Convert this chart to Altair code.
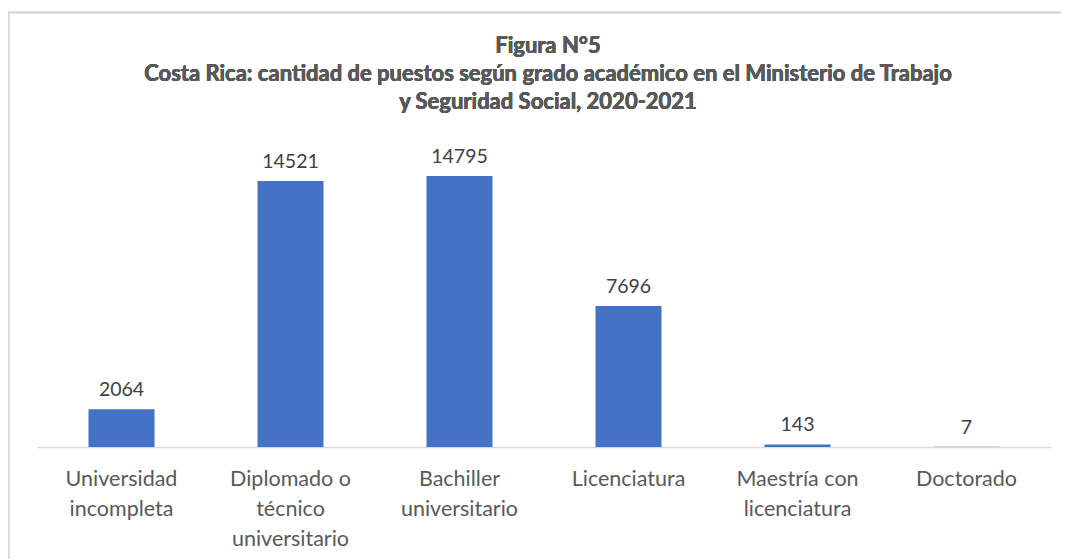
import altair as alt
import pandas as pd

categories = [
    "Universidad\nincompleta",
    "Diplomado o\ntécnico\nuniversitario",
    "Bachiller\nuniversitario",
    "Licenciatura",
    "Maestría con\nlicenciatura",
    "Doctorado",
]
values = [2064, 14521, 14795, 7696, 143, 7]
title_lines = [
    "Figura N°5",
    "Costa Rica: cantidad de puestos según grado académico en el Ministerio de Trabajo",
    "y Seguridad Social, 2020-2021",
]

df = pd.DataFrame({"cat": categories, "val": values})
FONT = "Lato"

x = alt.X("cat:N", sort=categories, title=None,
          scale=alt.Scale(paddingInner=0, paddingOuter=0),
          axis=alt.Axis(labelAngle=0, labelExpr="split(datum.label, '\\n')",
                        labelFontSize=21.5, labelColor="#595959", labelFont=FONT,
                        labelLineHeight=30, labelPadding=32, labelBaseline="middle",
                        ticks=False, domainColor="#D9D9D9", domainWidth=1.5,
                        labelLimit=300))
y = alt.Y("val:Q", scale=alt.Scale(domain=[0, 16000]), axis=None)

bars = alt.Chart(df).mark_bar(size=66, color="#4472C4").encode(x=x, y=y)
labels = alt.Chart(df).mark_text(baseline="bottom", dy=-9, fontSize=19.5, color="#404040", font=FONT).encode(
    x=alt.X("cat:N", sort=categories), y=y, text="val:Q")

border = alt.Chart(df).mark_rect(fill=None, stroke="#D9D9D9", strokeWidth=1.5).encode(
    x=alt.value(-28.5), x2=alt.value(1060), y=alt.value(-141.5), y2=alt.value(500))

title = alt.Chart(df).mark_text(
    fontSize=22, font=FONT, fontWeight="bold", color="#595959", lineHeight=28,
    baseline="middle", align="center").encode(
    x=alt.value(511), y=alt.value(-108), text=alt.value(title_lines))

chart = alt.layer(border, bars, labels, title).properties(
    width=1014, height=293,
    autosize=alt.AutoSizeParams(type="none"),
    padding={"left": 29, "top": 146, "right": 10, "bottom": 112},
).configure_view(stroke=None)

chart.save("out.html", embed_options={"renderer": "svg", "actions": False})
